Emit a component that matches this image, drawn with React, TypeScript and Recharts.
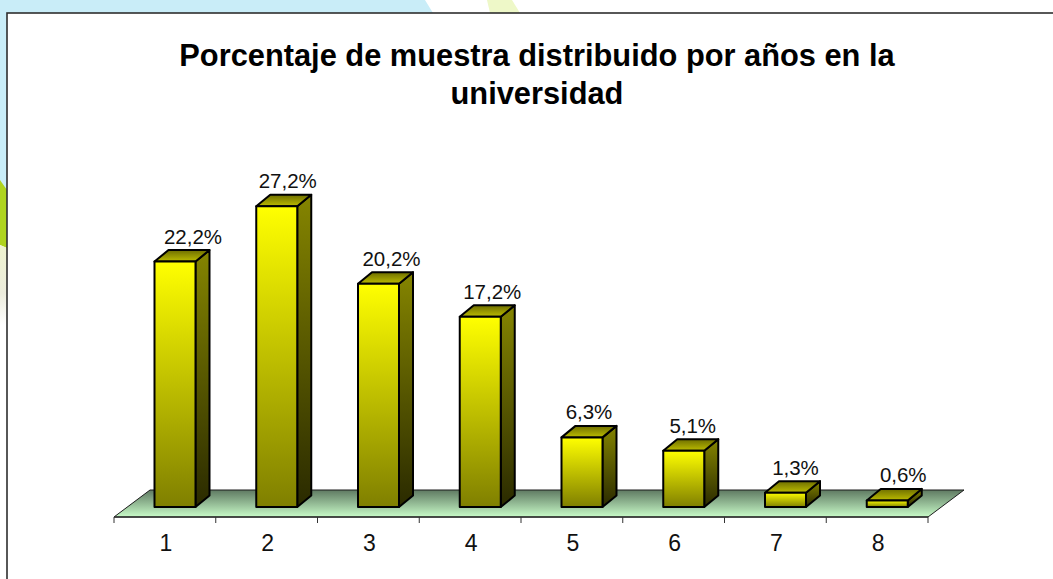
import React from "react";
import { BarChart, Bar, XAxis, YAxis, LabelList, usePlotArea } from "recharts";

const years: string[] = ["1", "2", "3", "4", "5", "6", "7", "8"];
const percentages: number[] = [22.2, 27.2, 20.2, 17.2, 6.3, 5.1, 1.3, 0.6];
const titleLines: string[] = [
  "Porcentaje de muestra distribuido por años en la",
  "universidad",
];

const rows = years.map((year, i) => ({ year, pct: percentages[i] }));

const WIDTH = 1053;
const HEIGHT = 579;
const FONT = "'Liberation Sans', Arial, sans-serif";
const margin = { top: 120, right: 125, bottom: 22, left: 114 };
const bandWidth = (WIDTH - margin.left - margin.right) / years.length;

// the 3d look: how far the boxes and the floor go "back"
const BAR_SHIFT = 10.5;
const DEPTH_X = 14;
const DEPTH_Y = 11.5;
const FLOOR_X = 36;
const FLOOR_Y = 27;

// the labels in the original were not placed evenly over the bars
const labelNudge: number[] = [18, 11, 13, 12, 7, 9, 10, 16];

const formatPct = (v: number) => v.toFixed(1).replace(".", ",") + "%";

const Floor = () => {
  const plot = usePlotArea();
  if (!plot) return null;
  const left = plot.x;
  const right = plot.x + plot.width;
  const y = plot.y + plot.height;
  const pts = [
    [left, y],
    [left + FLOOR_X, y - FLOOR_Y],
    [right + FLOOR_X, y - FLOOR_Y],
    [right, y],
  ];
  return (
    <polygon
      points={pts.map((p) => p.join(",")).join(" ")}
      fill="url(#floorFill)"
      stroke="#1c1c1c"
      strokeWidth={1}
    />
  );
};

const Box3D = (props: any) => {
  const { x, y, width, height } = props;
  const l = x + BAR_SHIFT;
  const r = l + width;
  const b = y + height;
  const line = { stroke: "#000", strokeWidth: 2, strokeLinejoin: "round" as const };
  return (
    <g>
      <polygon
        points={`${r},${y} ${r + DEPTH_X},${y - DEPTH_Y} ${r + DEPTH_X},${b - DEPTH_Y} ${r},${b}`}
        fill="url(#sideFill)"
        {...line}
      />
      <polygon
        points={`${l},${y} ${l + DEPTH_X},${y - DEPTH_Y} ${r + DEPTH_X},${y - DEPTH_Y} ${r},${y}`}
        fill="url(#topFill)"
        {...line}
      />
      <rect x={l} y={y} width={width} height={height} fill="url(#frontFill)" {...line} />
    </g>
  );
};

const BarValue = (props: any) => {
  const { x, y, width, value, index } = props;
  return (
    <text
      x={x + BAR_SHIFT + width / 2 + labelNudge[index]}
      y={y - DEPTH_Y - 6.5}
      textAnchor="middle"
      fontFamily={FONT}
      fontSize={20.5}
      fill="#111"
    >
      {formatPct(value)}
    </text>
  );
};

const YearTick = (props: any) => {
  const { x, y, payload, index } = props;
  const left = x - bandWidth / 2;
  return (
    <g>
      <line x1={left} x2={left} y1={y} y2={y + 6} stroke="#333" />
      {index === years.length - 1 && (
        <line x1={x + bandWidth / 2} x2={x + bandWidth / 2} y1={y} y2={y + 6} stroke="#333" />
      )}
      <text
        x={x + 1}
        y={y + 34}
        textAnchor="middle"
        fontFamily={FONT}
        fontSize={23}
        fill="#111"
      >
        {payload.value}
      </text>
    </g>
  );
};

const Backdrop = () => (
  <svg width={WIDTH} height={HEIGHT} style={{ position: "absolute", left: 0, top: 0 }}>
    <defs>
      <linearGradient id="paleFill" x1="0" y1="0" x2="0" y2="1">
        <stop offset="0" stopColor="#eef3cf" />
        <stop offset="0.6" stopColor="#ececdc" />
        <stop offset="1" stopColor="#ffffff" />
      </linearGradient>
    </defs>
    <polygon points="0,0 425,0 433,13 7,13 7,190 0,190" fill="#c9edf8" />
    <polygon points="0,180 7,190 7,248 0,245" fill="#afd41e" />
    <polygon points="0,245 7,248 7,325 0,325" fill="url(#paleFill)" />
    <polygon points="487,0 512,0 520,13 490,13" fill="#eef8c8" />
    <rect x={7} y={13} width={1100} height={700} fill="#fff" stroke="#2e2e2e" strokeWidth={1.6} />
    {titleLines.map((line, i) => (
      <text
        key={line}
        x={537}
        y={66 + i * 38}
        textAnchor="middle"
        fontFamily={FONT}
        fontWeight="bold"
        fontSize={30.8}
        fill="#000"
      >
        {line}
      </text>
    ))}
  </svg>
);

export default function App() {
  return (
    <div style={{ position: "absolute", left: 0, top: 0, width: WIDTH, height: HEIGHT, overflow: "hidden" }}>
      <Backdrop />
      <div style={{ position: "absolute", left: 0, top: 0 }}>
        <BarChart width={WIDTH} height={HEIGHT} data={rows} margin={margin} barSize={41}>
          <defs>
            <linearGradient id="frontFill" x1="0" y1="0" x2="0" y2="1">
              <stop offset="0" stopColor="#ffff00" />
              <stop offset="1" stopColor="#7f7f00" />
            </linearGradient>
            <linearGradient id="sideFill" x1="0" y1="0" x2="0" y2="1">
              <stop offset="0" stopColor="#858500" />
              <stop offset="1" stopColor="#2a2a00" />
            </linearGradient>
            <linearGradient id="topFill" x1="0" y1="0" x2="0" y2="1">
              <stop offset="0" stopColor="#6e6e00" />
              <stop offset="1" stopColor="#bcbc00" />
            </linearGradient>
            <linearGradient id="floorFill" x1="0" y1="0" x2="0" y2="1">
              <stop offset="0" stopColor="#5f7a62" />
              <stop offset="1" stopColor="#c8fbc8" />
            </linearGradient>
          </defs>
          <Floor />
          <XAxis
            dataKey="year"
            interval={0}
            height={40}
            tickLine={false}
            tickSize={0}
            tickMargin={0}
            tick={YearTick}
            axisLine={{ stroke: "#333", strokeWidth: 1.4 }}
          />
          <YAxis hide domain={[-0.9, 35]} />
          <Bar dataKey="pct" shape={Box3D} isAnimationActive={false}>
            <LabelList dataKey="pct" content={BarValue} />
          </Bar>
        </BarChart>
      </div>
    </div>
  );
}
